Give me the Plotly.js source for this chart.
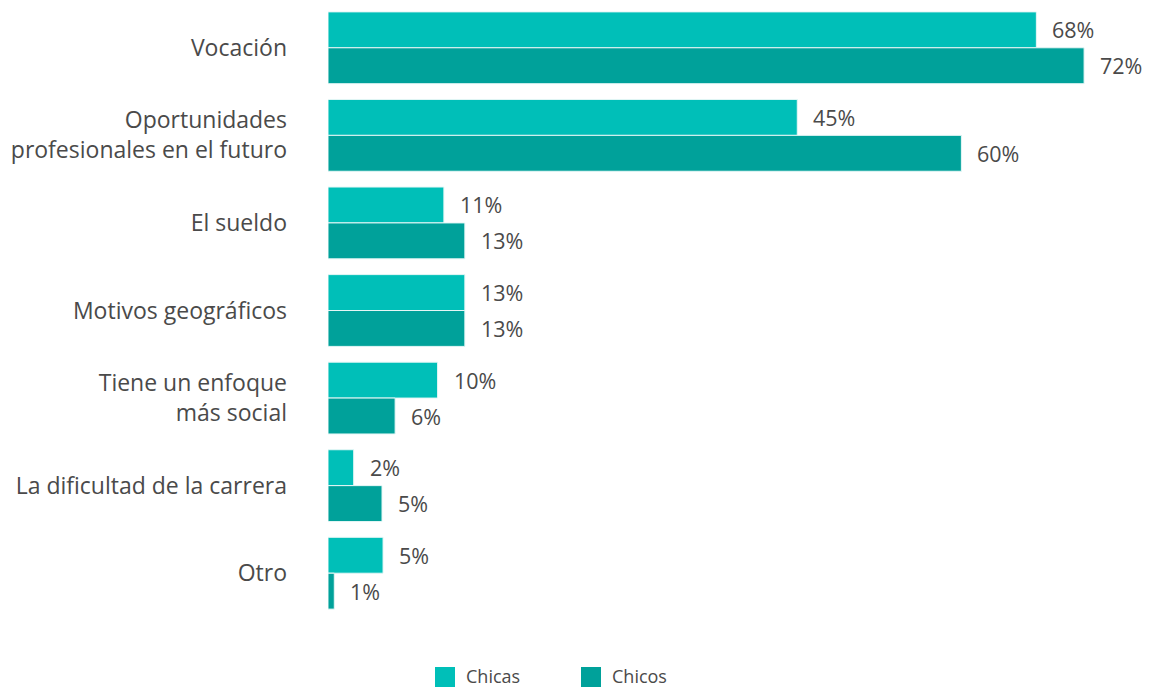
<!DOCTYPE html>
<html>
<head>
<meta charset="utf-8">
<script src="https://cdn.plot.ly/plotly-3.0.1.min.js"></script>
<style>html,body{margin:0;padding:0;background:#fff;}#chart{width:1156px;height:688px;}</style>
</head>
<body>
<div id="chart"></div>
<script>
const categories = ["Vocación", "Oportunidades<br>profesionales en el futuro", "El sueldo", "Motivos geográficos", "Tiene un enfoque<br>más social", "La dificultad de la carrera", "Otro"];
// values (labels show them rounded)
const chicas = [67.55, 44.75, 11.05, 13.05, 10.45, 2.45, 5.25];
const chicos = [72.1, 60.4, 13.05, 13.05, 6.4, 5.15, 0.6];
const seriesNames = ["Chicas", "Chicos"];
const colors = ["#00BFB8", "#00A19A"];

const textColor = "#4a4a4a";
const fontFam = "'Open Sans', 'Noto Sans', sans-serif";

const L = 328, R = 9, T = 4, B = 71, W = 1156, H = 688;
const plotW = W - L - R, plotH = H - T - B;
const px2x = p => (p - L) / plotW;
const px2y = p => (H - B - p) / plotH;

const traces = [chicas, chicos].map((vals, i) => ({
  type: "bar",
  orientation: "h",
  name: seriesNames[i],
  x: vals,
  y: categories,
  marker: {color: colors[i], line: {color: "#e6f7f6", width: 1}},
  showlegend: false,
  hoverinfo: "x+name"
}));

const annotations = [];
[chicas, chicos].forEach((vals, i) => {
  vals.forEach((v, j) => {
    annotations.push({
      x: v, y: categories[j], xref: "x", yref: "y",
      text: Math.round(v) + "%", showarrow: false,
      xanchor: "left", yanchor: "middle",
      xshift: 14, yshift: i === 0 ? 18 : -18,
      font: {family: fontFam, size: 21.5, color: textColor}
    });
  });
});

// custom legend (bottom, centred under the chart)
const shapes = [];
const legendX = [435, 581];
seriesNames.forEach((n, i) => {
  shapes.push({
    type: "rect", xref: "paper", yref: "paper",
    x0: px2x(legendX[i]), x1: px2x(legendX[i] + 20),
    y0: px2y(687), y1: px2y(667),
    fillcolor: colors[i], line: {width: 0}
  });
  annotations.push({
    xref: "paper", yref: "paper",
    x: px2x(legendX[i] + 30), y: px2y(676),
    xanchor: "left", yanchor: "middle", showarrow: false, borderpad: 0,
    text: n, font: {family: fontFam, size: 18, color: textColor}
  });
});

const layout = {
  width: W, height: H,
  margin: {l: L, r: R, t: T, b: B, autoexpand: false},
  paper_bgcolor: "#fff", plot_bgcolor: "#fff",
  barmode: "group", bargap: 0.18, bargroupgap: 0,
  font: {family: fontFam, size: 20, color: textColor},
  xaxis: {range: [0, 78.1], showgrid: false, zeroline: false, showticklabels: false, showline: false, fixedrange: true},
  yaxis: {type: "category", range: [6.5, -0.5], showgrid: false, zeroline: false, showline: false,
          ticks: "", ticklabelstandoff: 40, tickfont: {family: fontFam, size: 23, color: textColor}},
  showlegend: false,
  shapes: shapes,
  annotations: annotations
};

Plotly.newPlot("chart", traces, layout, {displayModeBar: false, staticPlot: true});
</script>
</body>
</html>
